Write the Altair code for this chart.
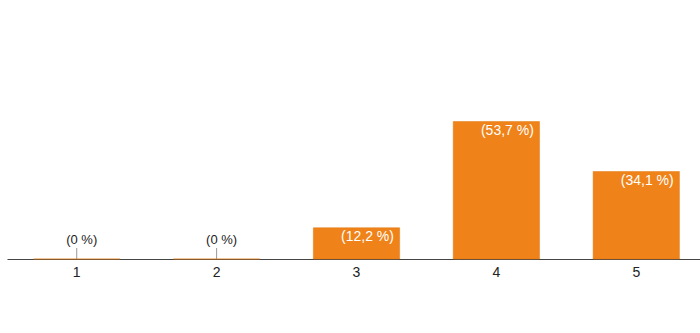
import altair as alt
import pandas as pd

categories = ["1", "2", "3", "4", "5"]
counts = [0, 0, 5, 22, 14]
labels = ["(0 %)", "(0 %)", "(12,2 %)", "(53,7 %)", "(34,1 %)"]

df = pd.DataFrame({"cat": categories, "count": counts, "label": labels})

x = alt.X("cat:N", sort=categories,
          scale=alt.Scale(paddingInner=0.383, paddingOuter=0.19, round=False, range=[0, 699]),
          axis=alt.Axis(title=None, labelAngle=0, labelFont="Liberation Sans",
                        labelFontSize=14, labelColor="#222222", labelPadding=6,
                        ticks=False, domainColor="#444444", domainWidth=1.2, grid=False))
y = alt.Y("count:Q", scale=alt.Scale(domain=[0, 40]), axis=None)

base = alt.Chart(df)

ticks = base.transform_calculate(zero="0").mark_rule(color="#999999", strokeWidth=1).encode(
    x=x, y=alt.Y("zero:Q", scale=alt.Scale(domain=[0, 40]), axis=None), y2=alt.value(239)
)

bars = base.mark_bar(color="#ef8319", stroke="#e07a15", strokeWidth=0.5).encode(x=x, y=y)

inside = base.transform_filter("datum.count > 0").mark_text(
    color="white", fontSize=14, font="Liberation Sans", dx=11, dy=9, baseline="middle"
).encode(x=x, y=y, text="label:N")

outside = base.transform_filter("datum.count == 0").mark_text(
    color="#222222", fontSize=13, font="Liberation Sans", dx=5, dy=-19, baseline="middle"
).encode(x=x, y=y, text="label:N")

chart = alt.layer(ticks, bars, inside, outside).properties(
    width=693, height=250,
    padding={"left": 7, "top": 9, "right": 0, "bottom": 74},
    autosize=alt.AutoSizeParams(type="none")
).configure_view(stroke=None)

chart.save("out.html", embed_options={"renderer": "svg", "actions": False})
